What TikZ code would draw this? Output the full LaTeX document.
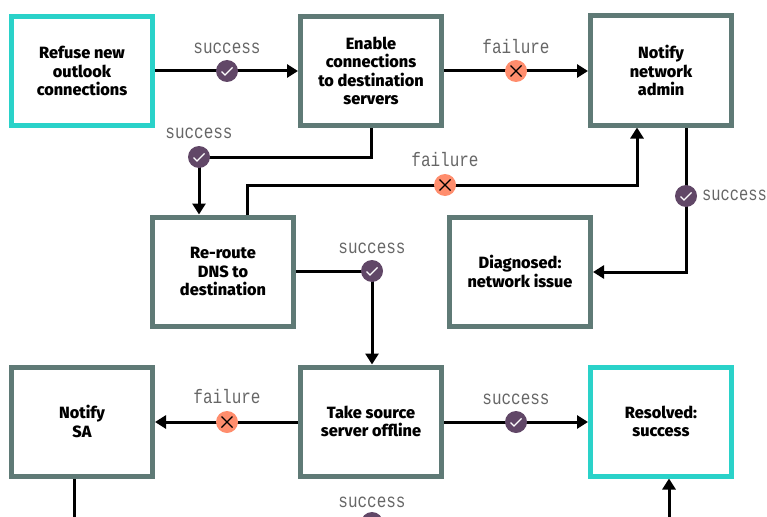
\documentclass[tikz,border=0pt]{standalone}
\usepackage{fontspec}
\setmainfont{Fira Sans}[BoldFont={Fira Sans ExtraBold}]
\newfontfamily\labelfont{Liberation Mono}[FakeStretch=0.82]
\newfontfamily\labelfontnarrow{Liberation Mono}[FakeStretch=0.79]
\usetikzlibrary{arrows.meta,backgrounds,calc}
\definecolor{boxgray}{HTML}{5F7A76}
\definecolor{boxteal}{HTML}{2AD2C9}
\definecolor{okpurple}{HTML}{614767}
\definecolor{badorange}{HTML}{FF8D6D}
\definecolor{lblgray}{HTML}{666666}
\tikzset{
  x=1pt,y=-1pt,
  box/.style={draw=boxgray,line width=5pt,fill=white,minimum width=141pt,minimum height=109pt,align=center,inner sep=0pt,
    font=\fontsize{16.3}{18.5}\selectfont\bfseries,text=black},
  tealbox/.style={box,draw=boxteal},
  okbadge/.style={circle,fill=okpurple,minimum size=22pt,inner sep=0pt,
    path picture={\draw[white,line width=1.3pt] ($(path picture bounding box.center)+(-5.5,0.5)$) -- ++(3.5,3.5) -- ++(7.5,-7.5);}},
  badbadge/.style={circle,fill=badorange,minimum size=22pt,inner sep=0pt,
    path picture={\draw[black,line width=1.2pt] ($(path picture bounding box.center)+(-5.5,-5.5)$) -- ++(11,11) ($(path picture bounding box.center)+(5.5,-5.5)$) -- ++(-11,11);}},
  edgelabel/.style={font=\fontsize{19.5}{20}\labelfont,text=lblgray,inner sep=0pt,text height=10pt,text depth=3pt},
  conn/.style={line width=3pt,draw=black},
  connarrow/.style={conn,-{Triangle[length=11pt,width=13pt]}},
}
\begin{document}
\begin{tikzpicture}
\useasboundingbox (0,0) rectangle (767,516);
\clip (0,0) rectangle (767,516);
% boxes
\node[tealbox] (refuse) at (82,71) {Refuse new\\outlook\\connections};
\node[box] (enable) at (371,71) {Enable\\connections\\to destination\\servers};
\node[box] (notifynet) at (661,70.5) {Notify\\network\\admin};
\node[box] (reroute) at (223,271.5) {Re-route\\DNS to\\destination};
\node[box] (diag) at (520,271.5) {Diagnosed:\\network issue};
\node[box] (notifysa) at (82,421.5) {Notify\\SA};
\node[box] (takeoff) at (371,421.5) {Take source\\server offline};
\node[tealbox] (resolved) at (661,421.5) {Resolved:\\success};
% badges
\node[okbadge] (ok1) at (227,71) {};
\node[badbadge] (bad1) at (516,71) {};
\node[okbadge] (ok2) at (199,157) {};
\node[badbadge] (bad2) at (445,185) {};
\node[okbadge] (ok3) at (686,196) {};
\node[okbadge] (ok4) at (372,271) {};
\node[badbadge] (bad3) at (227,422) {};
\node[okbadge] (ok5) at (516,422) {};
\node[okbadge] (ok6) at (372,523) {};
% labels
\node[edgelabel] (l1) at (227,49.8) {success};
\node[edgelabel] (l2) at (516,49.8) {failure};
\node[edgelabel] (l3) at (199,134.8) {success};
\node[edgelabel] (l4) at (445,163.2) {failure};
\node[edgelabel,anchor=west,font=\fontsize{19.5}{20}\labelfontnarrow] (l5) at (702,196.8) {success};
\node[edgelabel] (l6) at (372,249.8) {success};
\node[edgelabel] (l7) at (227,399.8) {failure};
\node[edgelabel] (l8) at (516,400.8) {success};
\node[edgelabel] (l9) at (372,503.8) {success};
% free ends
\coordinate (saend) at (74,517);
\coordinate (resend) at (669,517);
% connectors
\begin{scope}[on background layer]
\draw[connarrow] (refuse.east |- ok1) -- (enable.west |- ok1);
\draw[connarrow] (enable.east |- bad1) -- (notifynet.west |- bad1);
\draw[connarrow] (enable.south) |- (ok2.center) -- (ok2.center |- reroute.north);
\draw[connarrow] (reroute.north -| 247,0) |- (bad2.center) -| (637,0 |- notifynet.south);
\draw[connarrow] (ok3.center |- notifynet.south) -- (ok3.center) |- ([yshift=-0.5pt]diag.east);
\draw[connarrow] (reroute.east |- ok4) -- (ok4.center) -- (ok4.center |- takeoff.north);
\draw[connarrow] (takeoff.west |- bad3) -- (notifysa.east |- bad3);
\draw[connarrow] (takeoff.east |- ok5) -- (resolved.west |- ok5);
\draw[conn] (saend |- notifysa.south) -- (saend);
\draw[connarrow] (resend) -- (resend |- resolved.south);
\end{scope}
\end{tikzpicture}
\end{document}
